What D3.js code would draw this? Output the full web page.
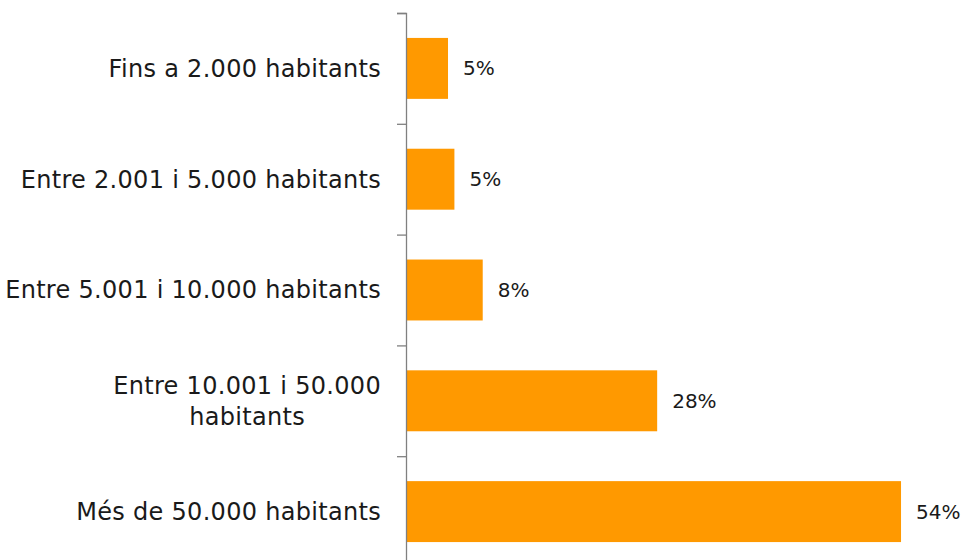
<!DOCTYPE html>
<html><head><meta charset="utf-8">
<script src="https://cdn.jsdelivr.net/npm/d3@7"></script>
<style>body{margin:0;background:#fff;}svg{display:block;}</style>
</head><body>
<svg id="c" width="965" height="560"></svg>
<script>
const categories = [
  ["Fins a 2.000 habitants"],
  ["Entre 2.001 i 5.000 habitants"],
  ["Entre 5.001 i 10.000 habitants"],
  ["Entre 10.001 i 50.000", "habitants"],
  ["Més de 50.000 habitants"]
];
const values = [4.6, 5.3, 8.4, 27.5, 54.2];
const valueLabels = ["5%", "5%", "8%", "28%", "54%"];

const svg = d3.select("#c");
const font = "'Century Gothic', 'URW Gothic', 'DejaVu Sans', sans-serif";
const idx = d3.range(categories.length);
const y = d3.scaleBand().domain(idx).range([13, 567]).paddingInner(0.45).paddingOuter(0.225);
const x = d3.scaleLinear().domain([0, 60]).range([406, 954]);

svg.selectAll("rect.bar").data(idx).enter().append("rect")
  .attr("class", "bar")
  .attr("x", x(0)).attr("y", i => y(i))
  .attr("width", i => x(values[i]) - x(0)).attr("height", y.bandwidth())
  .attr("fill", "#FF9900");

const axis = d3.axisLeft(d3.scaleLinear().domain([0, categories.length]).range([13, 567]))
  .ticks(categories.length).tickSize(9).tickFormat("");
const g = svg.append("g").attr("transform", `translate(${x(0)},0)`).call(axis);
g.select(".domain").attr("stroke", "#808080").attr("stroke-width", 1.3);
g.selectAll(".tick line").attr("stroke", "#808080").attr("stroke-width", 1.3);

const lh = 31;
const labelRight = 381;
svg.selectAll("text.cat").data(idx).enter().append("text")
  .attr("class", "cat")
  .attr("font-family", font).attr("font-size", 24).attr("letter-spacing", 0.3)
  .attr("fill", "#1a1a1a")
  .each(function(i) {
    const lines = categories[i];
    const cy = y(i) + y.bandwidth() / 2;
    const t = d3.select(this);
    if (lines.length === 1) {
      t.attr("text-anchor", "end");
      t.append("tspan").attr("x", labelRight).attr("y", cy).attr("dy", "0.35em").text(lines[0]);
    } else {
      t.attr("text-anchor", "middle");
      const spans = lines.map((l, k) => t.append("tspan")
        .attr("y", cy + (k - (lines.length - 1) / 2) * lh)
        .attr("dy", "0.35em").text(l));
      const maxW = d3.max(spans, s => s.node().getComputedTextLength());
      spans.forEach(s => s.attr("x", labelRight - maxW / 2));
    }
  });

svg.selectAll("text.val").data(idx).enter().append("text")
  .attr("class", "val")
  .attr("x", i => x(values[i]) + 15)
  .attr("y", i => y(i) + y.bandwidth() / 2)
  .attr("dy", "0.35em")
  .attr("font-family", font).attr("font-size", 20).attr("fill", "#1a1a1a")
  .text(i => valueLabels[i]);
</script>
</body></html>
